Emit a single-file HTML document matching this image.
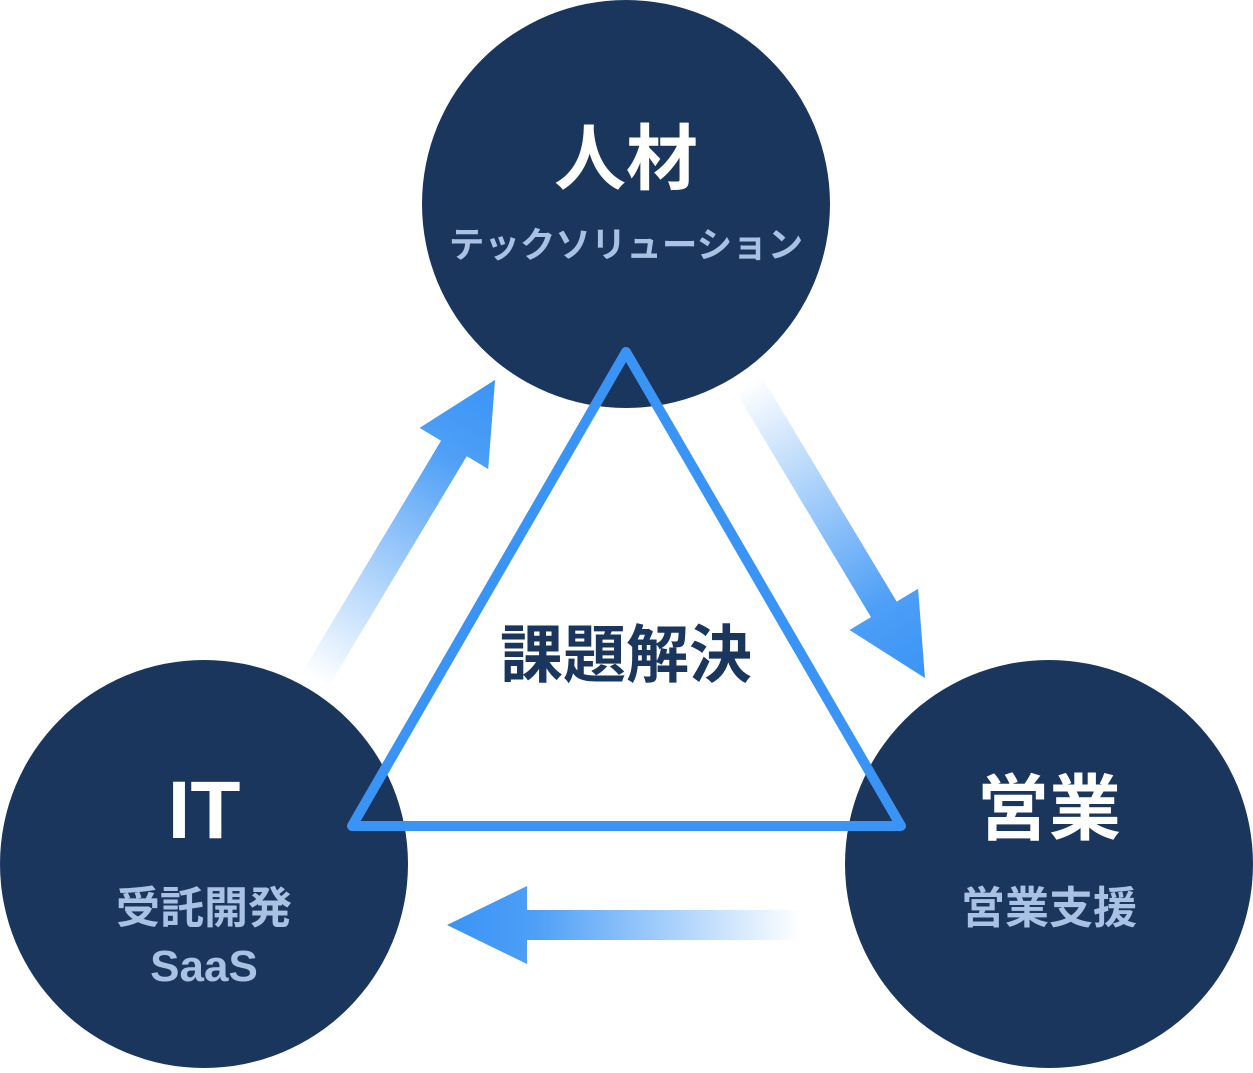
<!DOCTYPE html>
<html><head><meta charset="utf-8"><style>
html,body{margin:0;padding:0;background:#fff;}
body{width:1253px;height:1068px;overflow:hidden;}
text{font-family:"Liberation Sans","Noto Sans CJK JP",sans-serif;font-weight:bold;}
</style></head><body>
<svg width="1253" height="1068" viewBox="0 0 1253 1068" xmlns="http://www.w3.org/2000/svg">
<defs>
<linearGradient id="g1" gradientUnits="userSpaceOnUse" x1="0" y1="0" x2="350" y2="0">
<stop offset="0" stop-color="#3a94f5" stop-opacity="0"/>
<stop offset="0.75" stop-color="#3a94f5" stop-opacity="0.9"/>
<stop offset="1" stop-color="#3a94f5" stop-opacity="1"/>
</linearGradient>
<linearGradient id="g2" gradientUnits="userSpaceOnUse" x1="0" y1="0" x2="344" y2="0">
<stop offset="0" stop-color="#3a94f5" stop-opacity="0"/>
<stop offset="0.75" stop-color="#3a94f5" stop-opacity="0.9"/>
<stop offset="1" stop-color="#3a94f5" stop-opacity="1"/>
</linearGradient>
<linearGradient id="g3" gradientUnits="userSpaceOnUse" x1="0" y1="0" x2="353" y2="0">
<stop offset="0" stop-color="#3a94f5" stop-opacity="0"/>
<stop offset="0.75" stop-color="#3a94f5" stop-opacity="0.9"/>
<stop offset="1" stop-color="#3a94f5" stop-opacity="1"/>
</linearGradient>
</defs>
<circle cx="626" cy="204" r="204" fill="#1b365d"/>
<circle cx="204" cy="864" r="204" fill="#1b365d"/>
<circle cx="1049" cy="864" r="204" fill="#1b365d"/>

<g transform="translate(315,680) rotate(-59.04)">
<polygon points="0,-15 270,-15 270,-40 350,0 270,40 270,15 0,15" fill="url(#g1)"/>
</g>
<g transform="translate(748,383) rotate(59.04)">
<polygon points="0,-15 264,-15 264,-40 344,0 264,40 264,15 0,15" fill="url(#g2)"/>
</g>
<g transform="translate(800,925) rotate(180)">
<polygon points="0,-15 273,-15 273,-39 353,0 273,39 273,15 0,15" fill="url(#g3)"/>
</g>

<polygon points="626,352 352,826 901,826" fill="none" stroke="#3a94f5" stroke-width="10" stroke-linejoin="round"/>

<text x="626" y="184" font-size="72" fill="#fff" text-anchor="middle">人材</text>
<text x="626" y="257" font-size="35.5" fill="#a9c2e4" text-anchor="middle">テックソリューション</text>
<text x="204" y="838" font-size="82" fill="#fff" text-anchor="middle">IT</text>
<text x="204" y="923" font-size="44" fill="#a9c2e4" text-anchor="middle">受託開発</text>
<text x="204" y="981" font-size="44" fill="#a9c2e4" text-anchor="middle">SaaS</text>
<text x="1049" y="834" font-size="72" fill="#fff" text-anchor="middle">営業</text>
<text x="1049" y="923" font-size="44" fill="#a9c2e4" text-anchor="middle">営業支援</text>
<text x="626" y="677" font-size="63" fill="#1b365d" text-anchor="middle">課題解決</text>
</svg>
</body></html>
